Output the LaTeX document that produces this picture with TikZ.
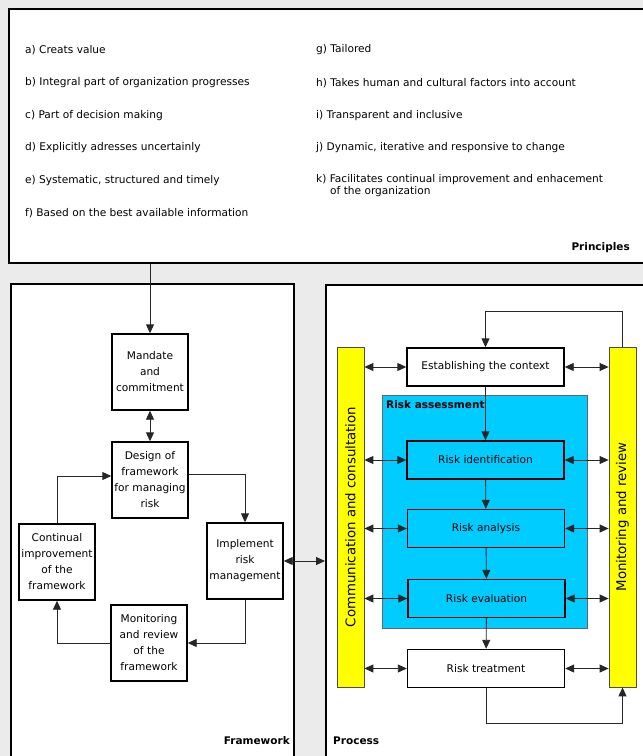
\documentclass[tikz,border=0pt]{standalone}
\usepackage{fontspec}
\setmainfont{DejaVu Sans}
\usetikzlibrary{positioning,arrows.meta}

\definecolor{riskcyan}{RGB}{0,204,255}
\definecolor{baryellow}{RGB}{255,255,0}

\begin{document}
\begin{tikzpicture}[x=1pt,y=-1pt,>={Triangle[length=9pt,width=8pt]},
	every node/.style={font=\fontsize{10.6}{12.5}\selectfont},
	outer/.style={draw,line width=1.8pt,fill=white},
	fwbox/.style={draw,line width=1.4pt,fill=white,minimum width=76pt,minimum height=76pt,text width=76pt,align=center,inner sep=0pt,font=\fontsize{10.6}{16}\selectfont},
	prbox/.style={draw,line width=1.4pt,fill=white,minimum width=157pt,minimum height=38pt,inner sep=0pt},
	riskbox/.style={prbox,fill=riskcyan},
	bar/.style={draw=black!70,line width=0.8pt,fill=baryellow,rotate=90,minimum width=340pt,minimum height=27pt,inner sep=0pt,font=\fontsize{13.3}{15}\selectfont},
	item/.style={anchor=west,inner sep=0pt,align=left},
	title/.style={font=\bfseries\fontsize{10.5}{12}\selectfont,inner sep=0pt},
	link/.style={draw=black!85,line width=0.9pt}]
	\clip (0,0) rectangle (643,756);
	\fill[black!8] (0,0) rectangle (643,756);

	% outer containers
	\node (princ) [outer,minimum width=645pt,minimum height=254pt,anchor=north west] at (8,8) {};
	\node (fw) [outer,minimum width=283pt,minimum height=475pt,anchor=north west] at (10,283) {};
	\node (proc) [outer,minimum width=325pt,minimum height=475pt,anchor=north west] at (325,284) {};
	\node [title,anchor=south east] at (630,253) {Principles};
	\node [title,anchor=south east] at (290,745) {Framework};
	\node [title,anchor=south west] at (333,745) {Process};

	% principles
	\node [item] at (25,50) {a) Creats value};
	\node [item] at (25,83) {b) Integral part of organization progresses};
	\node [item] at (25,116) {c) Part of decision making};
	\node [item] at (25,148) {d) Explicitly adresses uncertainly};
	\node [item] at (25,181) {e) Systematic, structured and timely};
	\node [item] at (25,213) {f) Based on the best available information};
	\node [item] at (316,50) {g) Tailored};
	\node [item] at (316,83) {h) Takes human and cultural factors into account};
	\node [item] at (316,116) {i) Transparent and inclusive};
	\node [item] at (316,148) {j) Dynamic, iterative and responsive to change};
	\node [item,anchor=north west] at (316,174) {k) Facilitates continual improvement and enhacement\\\hspace*{14pt}of the organization};

	% framework
	\node (mand) [fwbox] at (150,372) {Mandate\\and\\commitment};
	\node (design) [fwbox] at (150,480) {Design of\\framework\\for managing\\risk};
	\node (impl) [fwbox] at (245,561) {Implement\\risk\\management};
	\node (cont) [fwbox] at (57,562) {Continual\\improvement\\of the\\framework};
	\node (monfw) [fwbox] at (149,643) {Monitoring\\and review\\of the\\framework};

	% process
	\node (assess) [draw=black!60,line width=0.8pt,fill=riskcyan,minimum width=205pt,minimum height=233pt,anchor=north west] at (382,395) {};
	\node [title,anchor=north west] at (386,400) {Risk assessment};
	\node (comm) [bar] at (350.5,517) {Communication and consultation};
	\node (mon) [bar] at (622.5,517) {Monitoring and review};
	\node (est) [prbox] at (485.5,367) {Establishing the context};
	\node (ident) [riskbox] at (485.5,460) {Risk identification};
	\node (anal) [riskbox] at (486,528.5) {Risk analysis};
	\node (eval) [riskbox] at (486.5,598.5) {Risk evaluation};
	\node (treat) [prbox] at (486,668.5) {Risk treatment};

	% links in the framework
	\draw[link,->] (princ.south -| mand) -- (mand);
	\draw[link,<->] (mand) -- (design);
	\draw[link,->] ([yshift=6pt]design.east) -| (impl);
	\draw[link,->] (impl.south) |- (monfw);
	\draw[link,->] (monfw) -| (cont);
	\draw[link,->] (cont) |- ([yshift=4pt]design.west);
	\draw[link,<->] (impl.east) -- (proc.west |- impl.east);

	% links in the process
	\foreach \b in {est,ident,anal,eval,treat}{
		\draw[link,<->] (comm.south |- \b) -- (\b);
		\draw[link,<->] (\b) -- (mon.north |- \b);
	}
	\draw[link,->] (est) -- (ident);
	\draw[link,->] (ident) -- (anal);
	\draw[link,->] (anal) -- (eval);
	\draw[link,->] (eval) -- (treat);
	\draw[link,->] (mon.east) -- ++(0,-35) -| (est);
	\draw[link,->] (treat.south) -- ++(0,35) -| (mon.west);
\end{tikzpicture}
\end{document}
